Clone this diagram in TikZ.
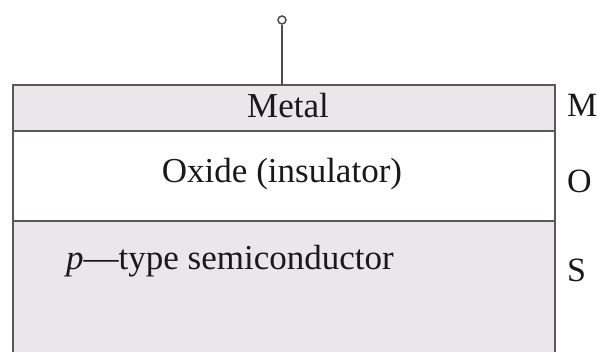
\documentclass[tikz,border=0pt]{standalone}
\usepackage{fontspec}
\setmainfont{Liberation Serif}
\begin{document}
\begin{tikzpicture}[x=1pt,y=-1pt,
  layerline/.style={draw=black!65,line width=2.2pt},
  lbl/.style={font=\fontsize{35}{40}\selectfont,inner sep=0pt,anchor=base,text=black!90},
  side/.style={font=\fontsize{34}{40}\selectfont,inner sep=0pt,anchor=base west,text=black!90}]
\definecolor{semifill}{HTML}{EAE6EA}
\useasboundingbox (0,0) rectangle (598,352);
% layers
\fill[semifill] (13,85) rectangle (555,131);
\fill[semifill] (13,221) rectangle (555,352);
\draw[layerline] (13,352) -- (13,85) -- (555,85) -- (555,352);
\draw[layerline] (13,131) -- (555,131);
\draw[layerline] (13,221) -- (555,221);
% terminal
\coordinate (gate) at (282,85);
\node[circle,draw=black!70,line width=1.5pt,minimum size=8pt,inner sep=0pt] (term) at (282,20) {};
\draw[black!70,line width=1.6pt] (term.south) -- (gate);
% texts
\node[lbl] (metal) at (288,118) {Metal};
\node[lbl] (oxide) at (282,183) {Oxide (insulator)};
\node[lbl,anchor=base west] (semi) at (66,270) {\textit{p}—type semiconductor};
\node[side] (M) at (567,117) {M};
\node[side] (O) at (567,193) {O};
\node[side] (S) at (567,282) {S};
\end{tikzpicture}
\end{document}
